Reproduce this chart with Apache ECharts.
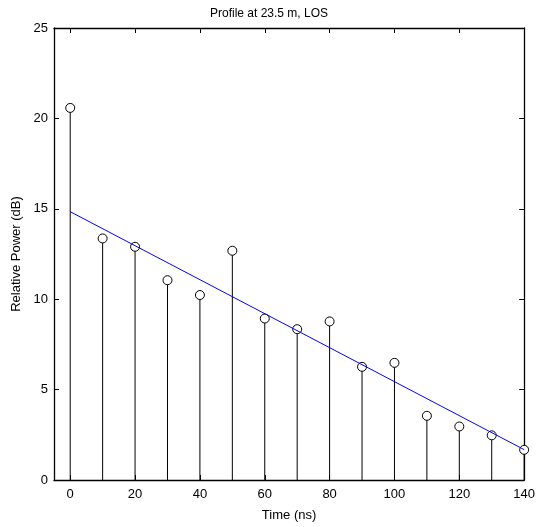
<!DOCTYPE html>
<html>
<head>
<meta charset="utf-8">
<script src="https://cdn.jsdelivr.net/npm/echarts@6/dist/echarts.min.js"></script>
<style>
  html, body { margin: 0; padding: 0; background: #fff; }
  #main { width: 538px; height: 527px; }
</style>
</head>
<body>
<div id="main"></div>
<script>
// delay values (ns) and measured relative power (dB)
var times = [0, 10, 20, 30, 40, 50, 60, 70, 80, 90, 100, 110, 120, 130, 140];
var power = [20.58, 13.36, 12.9, 11.05, 10.23, 12.68, 8.93, 8.34, 8.77, 6.26, 6.48, 3.55, 2.96, 2.47, 1.67];
// least-squares fit line end points
var fitTimes = [0, 140];
var fitPower = [14.84, 1.68];
var xTicks = [0, 20, 40, 60, 80, 100, 120, 140];

var font = 'Liberation Sans, Arial, Helvetica, sans-serif';
var stemData = times.map(function (t, i) { return [t, power[i]]; });
var fitData = fitTimes.map(function (t, i) { return [t, fitPower[i]]; });

function xAxisCfg(pos, showLabel) {
  return {
    type: 'value', position: pos, min: -5, max: 140,
    axisLine: { show: true, onZero: false, lineStyle: { color: '#000', width: 1.3 } },
    axisTick: { show: true, inside: true, length: 5, customValues: xTicks, lineStyle: { color: '#000' } },
    axisLabel: { show: showLabel, customValues: xTicks, color: '#000', fontSize: 13, fontFamily: font, margin: 8 },
    splitLine: { show: false }
  };
}
function yAxisCfg(pos, showLabel) {
  return {
    type: 'value', position: pos, min: 0, max: 25, interval: 5,
    axisLine: { show: true, onZero: false, lineStyle: { color: '#000', width: 1.3 } },
    axisTick: { show: true, inside: true, length: 5, lineStyle: { color: '#000' } },
    axisLabel: { show: showLabel, color: '#000', fontSize: 13, fontFamily: font, margin: 6 },
    splitLine: { show: false }
  };
}

var chart = echarts.init(document.getElementById('main'));
var xb = xAxisCfg('bottom', true);
xb.name = 'Time (ns)';
xb.nameLocation = 'middle';
xb.nameGap = 29;
xb.nameTextStyle = { color: '#000', fontSize: 13, fontFamily: font };
var yl = yAxisCfg('left', true);
yl.name = 'Relative Power (dB)';
yl.nameLocation = 'middle';
yl.nameGap = 30;
yl.nameTextStyle = { color: '#000', fontSize: 13, fontFamily: font };

chart.setOption({
  animation: false,
  title: {
    text: 'Profile at 23.5 m, LOS', left: 'center', top: 3,
    textStyle: { color: '#000', fontSize: 12, fontWeight: 'normal', fontFamily: font }
  },
  grid: { left: 54, right: 13, top: 28, bottom: 43 },
  xAxis: [xb, xAxisCfg('top', false)],
  yAxis: [yl, yAxisCfg('right', false)],
  series: [
    {
      type: 'custom',
      data: stemData,
      z: 2,
      renderItem: function (params, api) {
        var top = api.coord([api.value(0), api.value(1)]);
        var base = api.coord([api.value(0), 0]);
        return {
          type: 'line',
          shape: { x1: top[0], y1: top[1], x2: base[0], y2: base[1] },
          style: { stroke: '#000', lineWidth: 1 }
        };
      }
    },
    {
      type: 'scatter',
      data: stemData,
      z: 3,
      symbol: 'circle',
      symbolSize: 9,
      itemStyle: { color: '#fff', borderColor: '#000', borderWidth: 1, opacity: 1 }
    },
    {
      type: 'line',
      data: fitData,
      z: 4,
      symbol: 'none',
      lineStyle: { color: '#0000ff', width: 1 }
    }
  ]
});
</script>
</body>
</html>
